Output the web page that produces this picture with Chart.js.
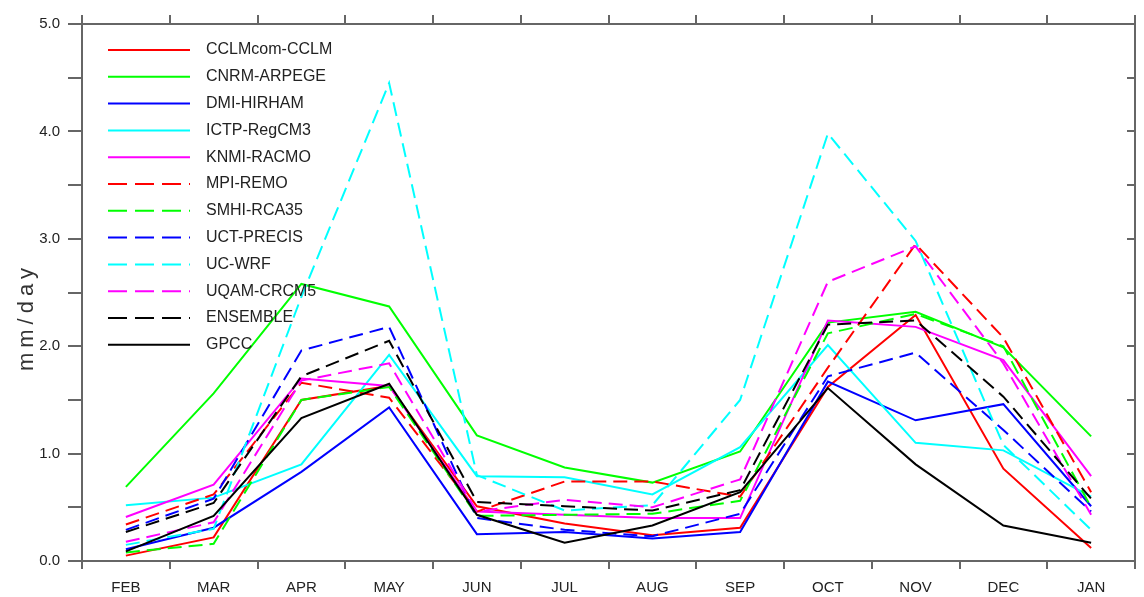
<!DOCTYPE html>
<html>
<head>
<meta charset="utf-8">
<script src="https://cdn.jsdelivr.net/npm/chart.js@4.4.0/dist/chart.umd.min.js"></script>
<style>
  html, body { margin: 0; padding: 0; background: #fff; }
  canvas { display: block; }
</style>
</head>
<body>
<canvas id="chart" width="1144" height="597"></canvas>
<script>
const months = ["FEB", "MAR", "APR", "MAY", "JUN", "JUL", "AUG", "SEP", "OCT", "NOV", "DEC", "JAN"];

// mm/day
const cclmCclm   = [0.05, 0.22, 1.50, 1.63, 0.51, 0.35, 0.24, 0.31, 1.62, 2.29, 0.86, 0.12];
const cnrmArpege = [0.69, 1.56, 2.58, 2.37, 1.17, 0.87, 0.73, 1.02, 2.22, 2.32, 1.99, 1.16];
const dmiHirham  = [0.11, 0.31, 0.83, 1.43, 0.25, 0.27, 0.21, 0.27, 1.67, 1.31, 1.46, 0.51];
const ictpRegcm3 = [0.52, 0.59, 0.90, 1.92, 0.79, 0.78, 0.62, 1.06, 2.01, 1.10, 1.03, 0.60];
const knmiRacmo  = [0.41, 0.71, 1.70, 1.63, 0.46, 0.43, 0.40, 0.40, 2.24, 2.18, 1.87, 0.79];
const mpiRemo    = [0.34, 0.62, 1.66, 1.52, 0.46, 0.74, 0.74, 0.60, 1.80, 2.95, 2.08, 0.64];
const smhiRca35  = [0.08, 0.16, 1.50, 1.62, 0.42, 0.43, 0.44, 0.56, 2.12, 2.30, 2.00, 0.50];
const uctPrecis  = [0.29, 0.58, 1.96, 2.18, 0.40, 0.29, 0.23, 0.44, 1.72, 1.94, 1.22, 0.46];
const ucWrf      = [0.15, 0.30, 2.46, 4.45, 0.80, 0.47, 0.52, 1.50, 3.98, 2.98, 1.08, 0.29];
const uqamCrcm5  = [0.18, 0.36, 1.68, 1.84, 0.46, 0.57, 0.50, 0.76, 2.60, 2.93, 1.84, 0.43];
const ensemble   = [0.27, 0.54, 1.72, 2.05, 0.55, 0.51, 0.47, 0.66, 2.20, 2.24, 1.53, 0.58];
const gpcc       = [0.09, 0.42, 1.33, 1.65, 0.43, 0.17, 0.33, 0.64, 1.61, 0.90, 0.33, 0.17];

const series = [
  ["CCLMcom-CCLM", cclmCclm, "#ff0000", false],
  ["CNRM-ARPEGE", cnrmArpege, "#00ff00", false],
  ["DMI-HIRHAM", dmiHirham, "#0000ff", false],
  ["ICTP-RegCM3", ictpRegcm3, "#00ffff", false],
  ["KNMI-RACMO", knmiRacmo, "#ff00ff", false],
  ["MPI-REMO", mpiRemo, "#ff0000", true],
  ["SMHI-RCA35", smhiRca35, "#00ff00", true],
  ["UCT-PRECIS", uctPrecis, "#0000ff", true],
  ["UC-WRF", ucWrf, "#00ffff", true],
  ["UQAM-CRCM5", uqamCrcm5, "#ff00ff", true],
  ["ENSEMBLE", ensemble, "#000000", true],
  ["GPCC", gpcc, "#000000", false],
];

const yTitle = "mm/day";

const FONT = '"Liberation Sans", Arial, sans-serif';
const axisColor = "#666";
const textColor = "#222";

// inward tick marks on the right-hand frame + spaced-out y title
const frameExtras = {
  id: "frameExtras",
  afterDraw(chart) {
    const { ctx, chartArea, scales } = chart;
    ctx.save();
    ctx.strokeStyle = axisColor;
    ctx.lineWidth = 2;
    scales.y.ticks.forEach((t) => {
      const py = Math.round(scales.y.getPixelForValue(t.value));
      ctx.beginPath();
      ctx.moveTo(chartArea.right, py);
      ctx.lineTo(chartArea.right - 8, py);
      ctx.stroke();
    });
    ctx.restore();

    ctx.save();
    ctx.translate(27, 317);
    ctx.rotate(-Math.PI / 2);
    ctx.font = "22px " + FONT;
    if ("letterSpacing" in ctx) ctx.letterSpacing = "5px";
    ctx.fillStyle = "#333";
    ctx.textAlign = "center";
    ctx.textBaseline = "middle";
    ctx.fillText(yTitle, 0, 0);
    ctx.restore();
  },
};

// legend with long line samples, inside the plot
const lineLegend = {
  id: "lineLegend",
  afterDatasetsDraw(chart) {
    const ctx = chart.ctx;
    ctx.save();
    ctx.font = "16px " + FONT;
    ctx.textBaseline = "middle";
    chart.data.datasets.forEach((ds, i) => {
      const y = 50 + i * 26.8;
      ctx.strokeStyle = ds.borderColor;
      ctx.lineWidth = 2;
      ctx.setLineDash(ds.borderDash.length ? [19, 8] : []);
      ctx.beginPath();
      ctx.moveTo(108, y);
      ctx.lineTo(190, y);
      ctx.stroke();
      ctx.setLineDash([]);
      ctx.fillStyle = textColor;
      ctx.fillText(ds.label, 206, y);
    });
    ctx.restore();
  },
};

new Chart(document.getElementById("chart"), {
  type: "line",
  data: {
    labels: months,
    datasets: series.map(([label, data, color, dashed], i) => ({
      label,
      data,
      borderColor: color,
      backgroundColor: color,
      borderWidth: 2,
      borderDash: dashed ? [14, 7] : [],
      pointRadius: 0,
      tension: 0,
      fill: false,
      order: series.length - i,
    })),
  },
  options: {
    responsive: false,
    devicePixelRatio: 1,
    animation: false,
    layout: { padding: 0 },
    plugins: {
      legend: { display: false },
      tooltip: { enabled: false },
    },
    scales: {
      x: {
        type: "category",
        position: "bottom",
        offset: true,
        grid: { offset: true, drawOnChartArea: false, tickLength: 8, color: axisColor, lineWidth: 2 },
        border: { color: axisColor, width: 2 },
        ticks: { color: textColor, font: { family: FONT, size: 15 }, padding: 10, autoSkip: false, maxRotation: 0 },
        afterFit: (s) => { s.height = 36; },
      },
      x2: {
        type: "category",
        labels: months,
        position: "top",
        offset: true,
        grid: { offset: true, drawOnChartArea: false, tickLength: 9, color: axisColor, lineWidth: 2 },
        border: { color: axisColor, width: 2 },
        ticks: { display: false },
        afterFit: (s) => { s.height = 24; },
      },
      y: {
        type: "linear",
        position: "left",
        min: 0,
        max: 5,
        ticks: {
          stepSize: 0.5,
          color: textColor,
          font: { family: FONT, size: 15 },
          padding: 8,
          callback: (v) => (v % 1 === 0 ? v.toFixed(1) : ""),
        },
        grid: { drawOnChartArea: false, tickLength: 14, color: axisColor, lineWidth: 2 },
        border: { color: axisColor, width: 2 },
        afterFit: (s) => { s.width = 82; },
      },
      y2: {
        type: "linear",
        position: "right",
        min: 0,
        max: 5,
        ticks: { display: false },
        grid: { display: false, drawTicks: false },
        border: { color: axisColor, width: 2 },
        afterFit: (s) => { s.width = 9; },
      },
    },
  },
  plugins: [frameExtras, lineLegend],
});
</script>
</body>
</html>
